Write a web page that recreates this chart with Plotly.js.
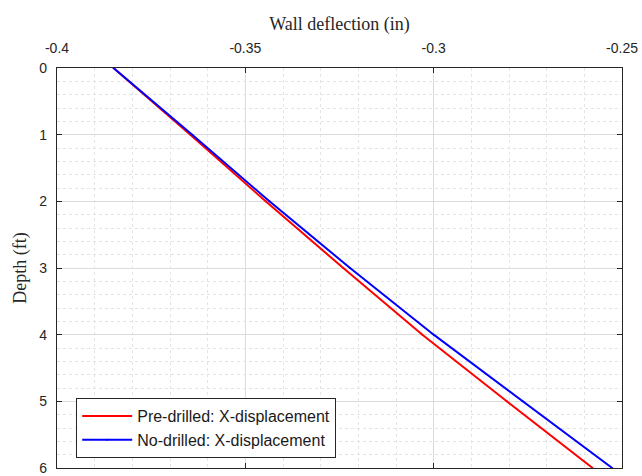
<!DOCTYPE html>
<html>
<head>
<meta charset="utf-8">
<script src="https://cdn.plot.ly/plotly-3.0.1.min.js"></script>
<style>html,body{margin:0;padding:0;background:#fff;}#chart{width:642px;height:476px;}</style>
</head>
<body>
<div id="chart"></div>
<script>
const depth = [0, 1, 2, 3, 4, 5, 6];
const preDrilled = [-0.3850, -0.3646, -0.3446, -0.3240, -0.3030, -0.2806, -0.2578];
const noDrilled = [-0.3850, -0.3641, -0.3436, -0.3222, -0.3000, -0.2764, -0.2526];
const xTickVals = [-0.4, -0.35, -0.3, -0.25];
const xTickText = ["-0.4", "-0.35", "-0.3", "-0.25"];
const yTickVals = [0, 1, 2, 3, 4, 5, 6];

const axisColor = '#262626';
const traces = [
  {x: preDrilled, y: depth, name: 'Pre-drilled: X-displacement', mode: 'lines+markers',
   line: {color: '#ff0000', width: 2}, marker: {color: '#ff0000', size: 2}},
  {x: noDrilled, y: depth, name: 'No-drilled: X-displacement', mode: 'lines+markers',
   line: {color: '#0000ff', width: 2}, marker: {color: '#0000ff', size: 2}}
];
const layout = {
  width: 642, height: 476,
  margin: {l: 57, r: 20, t: 68, b: 8},
  paper_bgcolor: '#fff', plot_bgcolor: '#fff',
  font: {family: 'Liberation Sans, Arial, sans-serif', size: 14, color: axisColor},
  showlegend: true,
  xaxis: {
    side: 'top', range: [-0.4, -0.25], tickvals: xTickVals, ticktext: xTickText,
    ticks: 'inside', ticklen: 5, tickcolor: axisColor, mirror: 'allticks',
    ticklabelstandoff: 8, tickfont: {size: 14},
    showline: true, linecolor: axisColor, linewidth: 1.2,
    showgrid: true, gridcolor: '#dcdcdc', gridwidth: 1, zeroline: false,
    minor: {dtick: 0.01, tick0: -0.4, showgrid: true, gridcolor: '#e4e4e4', griddash: 'dot', gridwidth: 1},
    title: {text: 'Wall deflection (in)', font: {family: 'Liberation Serif, Times New Roman, serif', size: 18, color: axisColor}, standoff: 5}
  },
  yaxis: {
    range: [6, 0], tickvals: yTickVals,
    ticks: 'inside', ticklen: 5, tickcolor: axisColor, mirror: 'allticks',
    ticklabelstandoff: 6, tickfont: {size: 14},
    showline: true, linecolor: axisColor, linewidth: 1.2,
    showgrid: true, gridcolor: '#dcdcdc', gridwidth: 1, zeroline: false,
    minor: {dtick: 0.2, tick0: 0, showgrid: true, gridcolor: '#e4e4e4', griddash: 'dot', gridwidth: 1},
    title: {text: 'Depth (ft)', font: {family: 'Liberation Serif, Times New Roman, serif', size: 18, color: axisColor}, standoff: 8}
  },
  legend: {
    x: 0.034, y: 0.025, xanchor: 'left', yanchor: 'bottom',
    bgcolor: '#fff', bordercolor: axisColor, borderwidth: 1,
    font: {family: 'Liberation Sans, Arial, sans-serif', size: 16, color: '#1a1a1a'},
    tracegroupgap: 0, itemwidth: 50
  }
};
Plotly.newPlot('chart', traces, layout, {displayModeBar: false, staticPlot: true});
</script>
</body>
</html>
